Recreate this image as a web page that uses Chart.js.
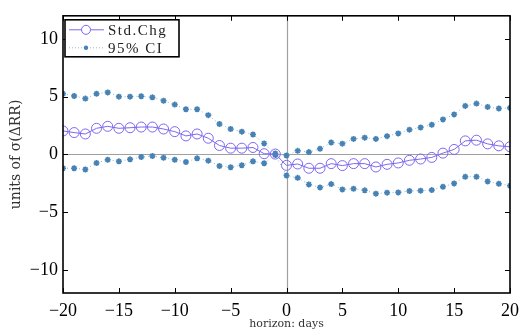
<!DOCTYPE html>
<html>
<head>
<meta charset="utf-8">
<script src="https://cdn.jsdelivr.net/npm/chart.js@4"></script>
<style>
  html, body { margin: 0; padding: 0; background: #fff; }
  #wrap { width: 526px; height: 334px; position: relative; }
</style>
</head>
<body>
<div id="wrap"><canvas id="chart" width="526" height="334"></canvas></div>
<script>
const horizons = [];
for (let h = -20; h <= 20; h++) horizons.push(h);

const stdChg = [
    2.03, 1.89, 1.77, 2.26, 2.43, 2.26, 2.31, 2.37, 2.37, 2.2,
    1.97, 1.6, 1.77, 1.4, 0.77, 0.54, 0.54, 0.6, 0.06, 0.03,
    -0.95, -0.83, -1.2, -1.2, -0.8, -0.97, -0.8, -0.8, -1.09, -0.86,
    -0.74, -0.51, -0.4, -0.26, 0.11, 0.43, 1.17, 1.23, 0.91, 0.74,
    0.66
];
const ciUpper = [
    5.25, 5.06, 4.83, 5.25, 5.37, 5.0, 5.0, 5.03, 4.94, 4.65,
    4.31, 3.91, 3.91, 3.4, 2.63, 2.2, 1.97, 1.72, 0.95, 0.08,
    -0.1, 0.31, 0.2, 0.49, 1.03, 0.93, 1.34, 1.45, 1.34, 1.58,
    1.82, 2.14, 2.33, 2.57, 3.03, 3.46, 4.2, 4.4, 4.11, 3.97,
    4.03
];
const ciLower = [
    -1.2, -1.2, -1.31, -0.74, -0.46, -0.6, -0.43, -0.23, -0.14, -0.29,
    -0.46, -0.66, -0.34, -0.54, -1.0, -1.11, -0.94, -0.6, -0.77, -0.05,
    -1.83, -2.03, -2.6, -2.86, -2.57, -3.03, -2.97, -3.11, -3.4, -3.31,
    -3.29, -3.17, -3.14, -3.09, -2.8, -2.51, -1.94, -1.94, -2.34, -2.54,
    -2.71
];
const xTicks = [-20, -15, -10, -5, 0, 5, 10, 15, 20];
const yTicks = [-10, -5, 0, 5, 10];

const PURPLE = '#7b68ee';
const STEEL = '#4682b4';
const SERIF = "'Liberation Serif', 'DejaVu Serif', serif";
const LABEL = "'DejaVu Serif', serif";

const toPts = arr => arr.map((v, i) => ({ x: horizons[i], y: v }));
const fmtMinus = v => String(v).replace('-', '\u2212');

// zero lines, inward ticks on four sides, frame and the boxed legend
const framePlugin = {
    id: 'frame',
    beforeDatasetsDraw(chart) {
        const { ctx, chartArea: a, scales: { x, y } } = chart;
        ctx.save();
        ctx.strokeStyle = '#a0a0a0';
        ctx.lineWidth = 1.2;
        const y0 = Math.round(y.getPixelForValue(0)) + 0.5;
        const x0 = Math.round(x.getPixelForValue(0)) + 0.5;
        ctx.beginPath();
        ctx.moveTo(a.left, y0); ctx.lineTo(a.right, y0);
        ctx.moveTo(x0, a.top); ctx.lineTo(x0, a.bottom);
        ctx.stroke();
        ctx.restore();
    },
    afterDatasetsDraw(chart) {
        const { ctx, chartArea: a, scales: { x, y } } = chart;
        ctx.save();
        ctx.strokeStyle = '#000';
        ctx.lineWidth = 1;
        const T = 5;
        ctx.beginPath();
        xTicks.forEach(t => {
            const px = Math.round(x.getPixelForValue(t)) + 0.5;
            ctx.moveTo(px, a.bottom); ctx.lineTo(px, a.bottom - T);
            ctx.moveTo(px, a.top); ctx.lineTo(px, a.top + T);
        });
        yTicks.forEach(t => {
            const py = Math.round(y.getPixelForValue(t)) + 0.5;
            ctx.moveTo(a.left, py); ctx.lineTo(a.left + T, py);
            ctx.moveTo(a.right, py); ctx.lineTo(a.right - T, py);
        });
        ctx.stroke();
        ctx.lineWidth = 1.6;
        ctx.strokeRect(a.left, a.top, a.right - a.left, a.bottom - a.top);

        // legend
        const lx = a.left + 2, ly = a.top + 4, lw = 114, lh = 37;
        ctx.fillStyle = '#fff';
        ctx.fillRect(lx, ly, lw, lh);
        ctx.lineWidth = 1.6;
        ctx.strokeRect(lx, ly, lw, lh);
        const r1 = ly + 10, r2 = ly + 28;
        ctx.strokeStyle = PURPLE;
        ctx.lineWidth = 1;
        ctx.beginPath(); ctx.moveTo(lx + 4, r1); ctx.lineTo(lx + 39, r1); ctx.stroke();
        ctx.beginPath(); ctx.arc(lx + 21, r1, 4.5, 0, Math.PI * 2);
        ctx.fillStyle = '#fff'; ctx.fill(); ctx.stroke();
        ctx.strokeStyle = '#8fb8d8';
        ctx.setLineDash([1, 2]);
        ctx.beginPath(); ctx.moveTo(lx + 4, r2); ctx.lineTo(lx + 39, r2); ctx.stroke();
        ctx.setLineDash([]);
        ctx.fillStyle = STEEL;
        ctx.beginPath(); ctx.arc(lx + 21, r2, 2.2, 0, Math.PI * 2); ctx.fill();
        ctx.fillStyle = '#222';
        ctx.font = '15px ' + SERIF;
        ctx.textBaseline = 'middle';
        ctx.letterSpacing = '1.5px';
        ctx.fillText('Std.Chg', lx + 43, r1 + 1);
        ctx.fillText('95% CI', lx + 43, r2 + 1);
        ctx.restore();
    }
};

const ciStyle = {
    borderColor: '#8fb8d8',
    borderWidth: 1,
    borderDash: [1, 3],
    pointStyle: 'star',
    pointRadius: 3,
    pointBorderWidth: 1.6,
    pointBorderColor: STEEL,
    pointBackgroundColor: STEEL,
    tension: 0,
    order: 2
};

new Chart(document.getElementById('chart'), {
    type: 'line',
    data: {
        datasets: [
            {
                label: 'Std.Chg',
                data: toPts(stdChg),
                borderColor: PURPLE,
                borderWidth: 1,
                pointStyle: 'circle',
                pointRadius: 5,
                pointBorderWidth: 1,
                pointBorderColor: PURPLE,
                pointBackgroundColor: 'rgba(255,255,255,0)',
                tension: 0,
                order: 1
            },
            Object.assign({ label: '95% CI', data: toPts(ciUpper) }, ciStyle),
            Object.assign({ label: '95% CI lower', data: toPts(ciLower) }, ciStyle)
        ]
    },
    options: {
        responsive: false,
        animation: false,
        layout: { padding: { top: 13, right: 13, left: 0, bottom: 0 } },
        plugins: {
            legend: { display: false },
            tooltip: { enabled: false }
        },
        scales: {
            x: {
                type: 'linear',
                min: -20,
                max: 20,
                afterBuildTicks: s => { s.ticks = xTicks.map(v => ({ value: v })); },
                afterFit: s => { s.height = 41; },
                grid: { display: false, drawTicks: false },
                border: { display: false },
                ticks: {
                    color: '#000',
                    padding: 7,
                    font: { family: SERIF, size: 18 },
                    maxRotation: 0,
                    callback: v => fmtMinus(v)
                },
                title: {
                    display: true,
                    text: 'horizon: days',
                    color: '#333',
                    padding: { top: 3, bottom: 3 },
                    font: { family: LABEL, size: 11 }
                }
            },
            y: {
                min: -12,
                max: 12,
                afterBuildTicks: s => { s.ticks = yTicks.map(v => ({ value: v })); },
                afterFit: s => { s.width = 63; },
                grid: { display: false, drawTicks: false },
                border: { display: false },
                ticks: {
                    color: '#000',
                    padding: 5,
                    font: { family: SERIF, size: 18 },
                    callback: v => fmtMinus(v)
                },
                title: {
                    display: true,
                    text: 'units of \u03c3(\u0394RR)',
                    color: '#333',
                    padding: { top: 8, bottom: 8 },
                    font: { family: LABEL, size: 14 }
                }
            }
        }
    },
    plugins: [framePlugin]
});
</script>
</body>
</html>
